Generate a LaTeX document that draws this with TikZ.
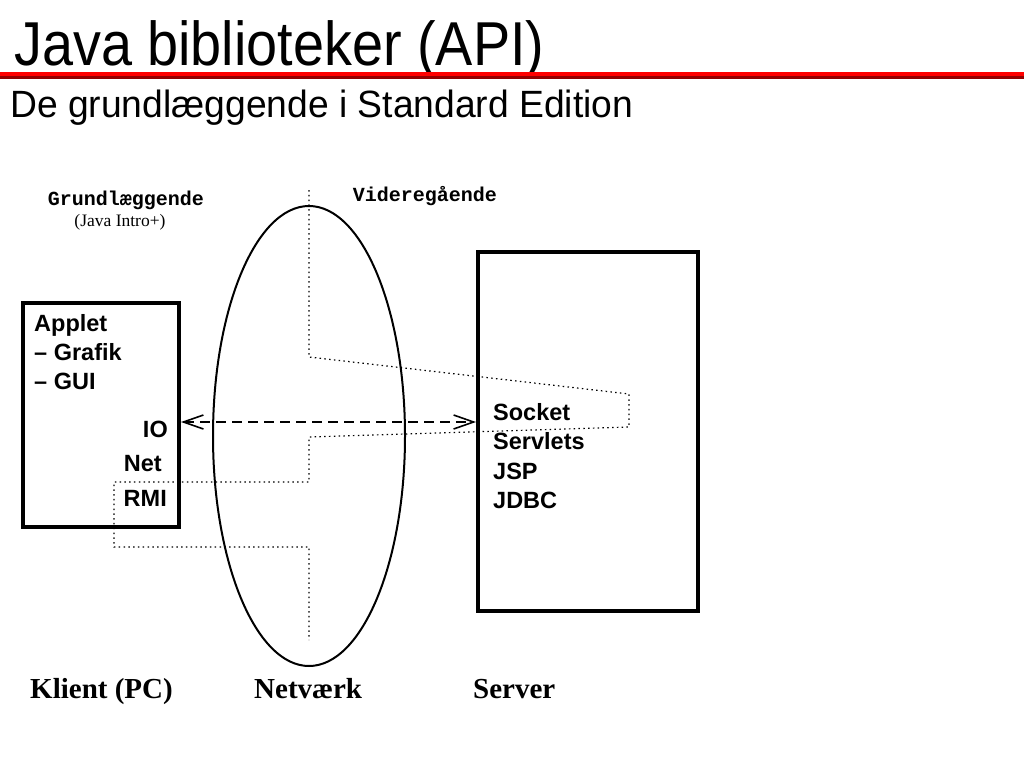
\documentclass[tikz,border=0pt]{standalone}
\usepackage{fontspec}
\setmainfont{Liberation Serif}
\setsansfont{Liberation Sans}
\setmonofont{Liberation Mono}
\usepackage{tikz}
\usetikzlibrary{shapes.geometric, arrows.meta, positioning, calc}
\definecolor{rulered}{RGB}{255,0,0}
\definecolor{ruleshade}{RGB}{150,0,0}

\begin{document}
\begin{tikzpicture}[
    x=1pt, y=-1pt,
    box/.style={rectangle, draw, line width=4pt, inner sep=0pt},
    net/.style={ellipse, draw, line width=2pt, inner sep=0pt, minimum width=192pt, minimum height=460pt},
    liste/.style={anchor=base west, inner sep=0pt, font=\fontsize{23.5}{28}\selectfont\sffamily\bfseries},
    tier/.style={anchor=base west, inner sep=0pt, font=\fontsize{29}{34}\selectfont\rmfamily\bfseries},
    niveau/.style={anchor=base, inner sep=0pt, font=\fontsize{20}{24}\selectfont\ttfamily\bfseries},
    grense/.style={line width=1.2pt, dash pattern=on 1.5pt off 3.3pt},
    arrow/.style={{Straight Barb[length=20pt, width=14pt]}-{Straight Barb[length=20pt, width=14pt]}, line width=1.6pt, dash pattern=on 10pt off 6pt}
]
\fill[white] (0,0) rectangle (1024,768);
\useasboundingbox (0,0) rectangle (1024,768);

\node[anchor=base west, inner sep=0pt, font=\fontsize{62}{68}\selectfont\sffamily] (title) at (14,66) {\scalebox{0.9}[1]{Java biblioteker (API)}};
\fill[rulered] (0,72) rectangle (1024,76);
\fill[ruleshade] (0,76) rectangle (1024,79);
\node[anchor=base west, inner sep=0pt, font=\fontsize{38}{42}\selectfont\sffamily] (subtitle) at (10,117) {\scalebox{0.98}[1]{De grundlæggende i Standard Edition}};

\node[niveau] (grund) at (126,205) {Grundlæggende};
\node[anchor=base, inner sep=0pt, font=\fontsize{17.5}{20}\selectfont\rmfamily] (intro) at (120,226) {(Java Intro+)};
\node[niveau] (videre) at (425,201) {Videregående};

\draw[grense] (309,190) -- (309,357) -- (629,394) -- (629,427) -- (309,437) -- (309,482)
    -- (114,482) -- (114,547) -- (309,547) -- (309,640);

\node[box, minimum width=156pt, minimum height=224pt] (klient) at (101,415) {};
\node[box, minimum width=220pt, minimum height=359pt] (server) at (588,431.5) {};
\node[net] (netvaerk) at (309,436) {};

\foreach \txt [count=\i] in {Applet, -- Grafik, -- GUI}
    \node[liste] (applet-\i) at (34,302.5+29*\i) {\txt};
\node[liste, anchor=base east] (io) at (168,437) {IO};
\node[liste, anchor=base east] (netlib) at (162,471) {Net};
\node[liste, anchor=base east] (rmi) at (167,506) {RMI};

\foreach \txt [count=\i] in {Socket, Servlets, JSP, JDBC}
    \node[liste] (srv-\i) at (493,391.5+29.2*\i) {\txt};

\draw[arrow] (klient.east |- 0,422) -- (server.west |- 0,422);

\node[tier] (klientlbl) at (30,698) {Klient (PC)};
\node[tier] (netlbl) at (254,698) {Netværk};
\node[tier] (serverlbl) at (473,698) {Server};
\end{tikzpicture}
\end{document}
